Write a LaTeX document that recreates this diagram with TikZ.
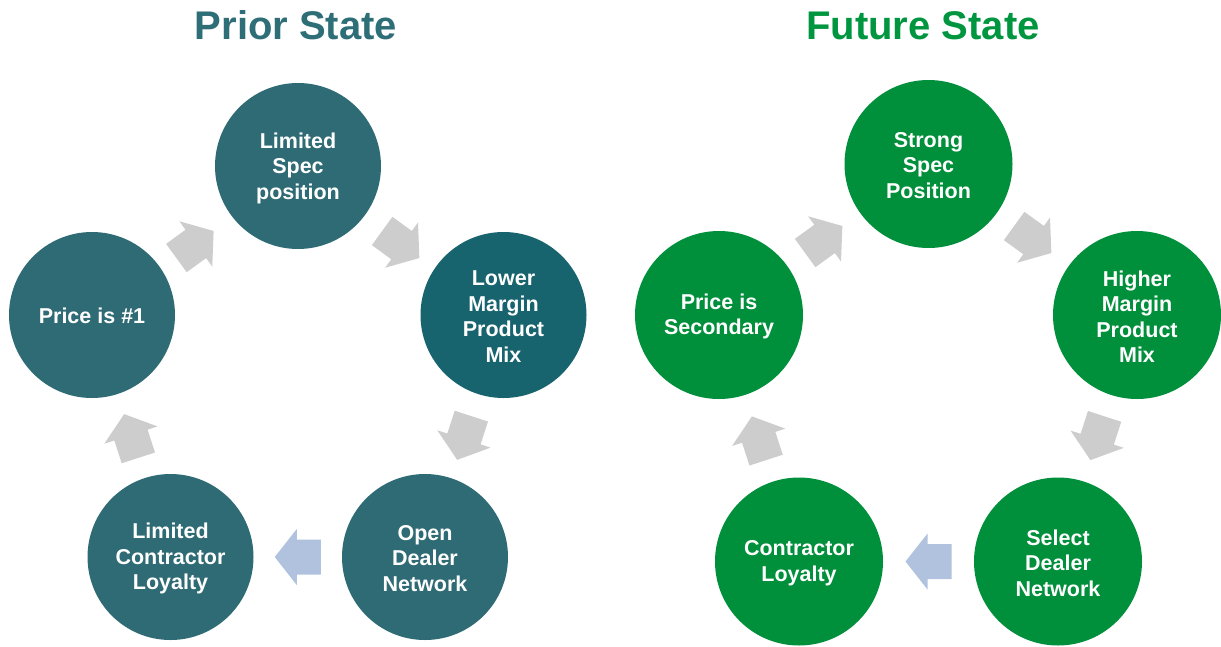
\documentclass[tikz,border=0pt]{standalone}
\usepackage{fontspec}
\setmainfont{Liberation Sans}
\usetikzlibrary{calc}
\definecolor{teal1}{HTML}{2F6B74}
\definecolor{teal2}{HTML}{17636E}
\definecolor{green1}{HTML}{008F3B}
\definecolor{tealtitle}{HTML}{2E6E77}
\definecolor{greentitle}{HTML}{009640}
\definecolor{arrgray}{HTML}{CDCDCD}
\definecolor{arrblue}{HTML}{B0C2DE}
\tikzset{
  circ/.style={circle, draw=none, inner sep=0pt, text=white, align=center,
    font=\bfseries\fontsize{21.5}{25.5}\selectfont, yshift=0pt},
  lcirc/.style={circ, minimum size=166pt, fill=teal1},
  rcirc/.style={circ, minimum size=168pt, fill=green1},
  ctext/.style={text=white, align=center, inner sep=0pt,
    font=\bfseries\fontsize{21.5}{25.5}\selectfont},
  title/.style={anchor=base, font=\bfseries\fontsize{40}{48}\selectfont},
  pics/blockarrow/.style={code={
    \fill[#1] (-23,-17.5) -- (1,-17.5) -- (1,-28) -- (23,0) -- (1,28) -- (1,17.5) -- (-23,17.5) -- cycle;}}
}
\begin{document}
\begin{tikzpicture}[x=1pt,y=-1pt]
\useasboundingbox (0,0) rectangle (1221,646);
% titles
\node[title, text=tealtitle] (t1) at (296,39) {Prior State};
\node[title, text=greentitle] (t2) at (923,39) {Future State};
% left cycle
\node[lcirc] (l1) at (298,166) {};
\node[lcirc, fill=teal2] (l2) at (503.5,315) {};
\node[lcirc] (l3) at (425,557) {};
\node[lcirc] (l4) at (170.5,557) {};
\node[lcirc] (l5) at (92,315) {};
\node[ctext] (l1t) at ($(l1)+(0,2)$) {Limited\\Spec\\position};
\node[ctext] (l2t) at ($(l2)+(0,1.5)$) {Lower\\Margin\\Product\\Mix};
\node[ctext] (l3t) at ($(l3)+(0,1.5)$) {Open\\Dealer\\Network};
\node[ctext] (l4t) at ($(l4)+(0,1.5)$) {Limited\\Contractor\\Loyalty};
\node[ctext] (l5t) at ($(l5)+(0,1)$) {Price is \#1};
\pic[rotate=36] at ($(l5)!0.5!(l1)+(0,4)$) {blockarrow=arrgray};
\pic[rotate=-36] at ($(l1)!0.5!(l2)+(0,4)$) {blockarrow=arrgray};
\pic[rotate=-108] at ($(l2)!0.5!(l3)+(0,2)$) {blockarrow=arrgray};
\pic[rotate=180] at ($(l3)!0.5!(l4)$) {blockarrow=arrblue};
\pic[rotate=108] at ($(l4)!0.5!(l5)$) {blockarrow=arrgray};
% right cycle
\node[rcirc] (r1) at (928.5,164) {};
\node[rcirc] (r2) at (1137,315) {};
\node[rcirc] (r3) at (1058,561.5) {};
\node[rcirc] (r4) at (799,561.5) {};
\node[rcirc] (r5) at (719,315) {};
\node[ctext] (r1t) at ($(r1)+(0,1.5)$) {Strong\\Spec\\Position};
\node[ctext] (r2t) at ($(r2)+(0,1.5)$) {Higher\\Margin\\Product\\Mix};
\node[ctext] (r3t) at ($(r3)+(0,1.5)$) {Select\\Dealer\\Network};
\node[ctext] (r4t) at ($(r4)+(0,1.5)$) {Contractor\\Loyalty};
\node[ctext] (r5t) at ($(r5)+(0,1.5)$) {Price is\\Secondary};
\pic[rotate=36] at ($(r5)!0.5!(r1)$) {blockarrow=arrgray};
\pic[rotate=-36] at ($(r1)!0.5!(r2)$) {blockarrow=arrgray};
\pic[rotate=-108] at ($(r2)!0.5!(r3)$) {blockarrow=arrgray};
\pic[rotate=180] at ($(r3)!0.5!(r4)$) {blockarrow=arrblue};
\pic[rotate=108] at ($(r4)!0.5!(r5)$) {blockarrow=arrgray};
\end{tikzpicture}
\end{document}
